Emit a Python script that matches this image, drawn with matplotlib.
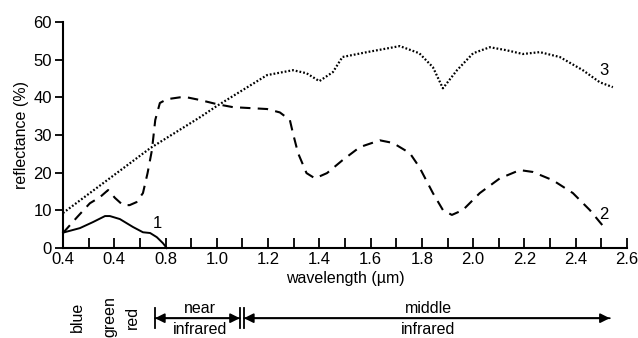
import numpy as np
import matplotlib
matplotlib.use("Agg")
import matplotlib.pyplot as plt

plt.rcParams['font.family'] = ['Liberation Sans Narrow', 'Liberation Sans', 'DejaVu Sans']

# curve 1 (solid)
x1 = [0.40, 0.466, 0.517, 0.564, 0.583, 0.622, 0.673, 0.712, 0.74, 0.766, 0.79, 0.805]
y1 = [4.1, 5.3, 6.9, 8.5, 8.5, 7.7, 5.6, 4.2, 4.0, 2.9, 1.3, 0.0]

# curve 2 (dashed)
x2 = [0.40, 0.455, 0.505, 0.544, 0.576, 0.603, 0.634, 0.66, 0.687, 0.712, 0.73, 0.747,
      0.76, 0.778, 0.805, 0.856, 0.884, 0.934, 1.0, 1.063, 1.196, 1.246, 1.285, 1.297,
      1.317, 1.35, 1.383, 1.43, 1.49, 1.558, 1.636, 1.687, 1.753, 1.79, 1.843, 1.882,
      1.917, 1.96, 2.026, 2.104, 2.182, 2.233, 2.311, 2.389, 2.455, 2.494, 2.52]
y2 = [4.0, 8.2, 11.9, 13.5, 15.4, 13.3, 11.4, 11.4, 12.2, 14.6, 19.9, 26.0,
      34.0, 38.5, 39.5, 40.0, 40.0, 39.3, 38.2, 37.4, 36.9, 36.0, 34.0, 30.5,
      25.2, 19.9, 18.5, 19.9, 23.3, 26.8, 28.6, 27.9, 25.2, 21.5, 14.6, 10.1,
      8.8, 10.1, 14.6, 18.5, 20.7, 20.2, 18.0, 14.6, 10.1, 6.9, 4.8]

# curve 3 (dotted)
x3 = [0.40, 0.74, 0.934, 1.0, 1.196, 1.297, 1.35, 1.40, 1.453, 1.49, 1.586, 1.714,
      1.79, 1.843, 1.882, 1.937, 2.0, 2.065, 2.13, 2.194, 2.26, 2.338, 2.428, 2.494, 2.545]
y3 = [9.3, 26.5, 34.7, 37.7, 45.9, 47.2, 46.4, 44.3, 46.7, 50.7, 52.0, 53.6,
      51.7, 48.0, 42.4, 47.2, 51.7, 53.3, 52.5, 51.5, 52.0, 50.7, 47.2, 44.0, 42.7]

xticks = [0.4, 0.6, 0.8, 1.0, 1.2, 1.4, 1.6, 1.8, 2.0, 2.2, 2.4, 2.6]
xticklabels = ['0.4', '0.4', '0.8', '1.0', '1.2', '1.4', '1.6', '1.8', '2.0', '2.2', '2.4', '2.6']
yticks = [0, 10, 20, 30, 40, 50, 60]

fig = plt.figure(figsize=(6.38, 3.38), dpi=100)
ax = fig.add_axes([0.0987, 0.266, 0.884, 0.669])

ax.plot(x1, y1, color='black', lw=1.4, clip_on=False)
ax.plot(x2, y2, color='black', lw=1.5, dashes=(5, 3.5), clip_on=False)
ax.plot(x3, y3, color='black', lw=1.6, dashes=(0.8, 0.9), clip_on=False)

ax.text(0.77, 6.6, '1', fontsize=12, ha='center', va='center')
ax.text(2.51, 9.0, '2', fontsize=12, ha='center', va='center')
ax.text(2.51, 47.0, '3', fontsize=12, ha='center', va='center')

ax.set_xlim(0.4, 2.6)
ax.set_ylim(0, 60)
for s in ['top', 'right']:
    ax.spines[s].set_visible(False)
for s in ['left', 'bottom']:
    ax.spines[s].set_linewidth(1.5)

ax.set_xticks(xticks)
ax.set_xticklabels(xticklabels)
ax.set_xticks(np.arange(0.5, 2.6, 0.2), minor=True)
ax.tick_params(axis='x', which='both', direction='in', length=7, width=1.3,
               labelsize=12, pad=3)
ax.set_yticks(yticks)
ax.tick_params(axis='y', direction='out', length=6, width=1.3, labelsize=12, pad=2)

ax.set_ylabel('reflectance (%)', fontsize=11.5, labelpad=3)
ax.set_xlabel('wavelength (µm)', fontsize=11.5, labelpad=3)

# spectral region annotations below the axis
tr = ax.get_xaxis_transform()
for xx, lab in [(0.455, 'blue'), (0.583, 'green'), (0.669, 'red')]:
    ax.text(xx, -0.305, lab, rotation=90, fontsize=11.5, ha='center', va='center',
            transform=tr, clip_on=False)

ay = -0.31
ax.annotate('', xy=(0.759, ay), xytext=(1.09, ay), xycoords=tr, textcoords=tr,
            arrowprops=dict(arrowstyle='-|>', color='black', lw=1.3,
                            mutation_scale=14, shrinkA=0, shrinkB=0))
ax.annotate('', xy=(1.09, ay), xytext=(0.759, ay), xycoords=tr, textcoords=tr,
            arrowprops=dict(arrowstyle='-|>', color='black', lw=1.3,
                            mutation_scale=14, shrinkA=0, shrinkB=0))
ax.annotate('', xy=(1.106, ay), xytext=(2.533, ay), xycoords=tr, textcoords=tr,
            arrowprops=dict(arrowstyle='-|>', color='black', lw=1.3,
                            mutation_scale=14, shrinkA=0, shrinkB=0))
ax.annotate('', xy=(2.533, ay), xytext=(1.106, ay), xycoords=tr, textcoords=tr,
            arrowprops=dict(arrowstyle='-|>', color='black', lw=1.3,
                            mutation_scale=14, shrinkA=0, shrinkB=0))
for xx in [0.759, 1.09, 1.106]:
    ax.plot([xx, xx], [ay - 0.045, ay + 0.045], color='black', lw=1.3,
            transform=tr, clip_on=False)

ax.text(0.934, -0.268, 'near', fontsize=11.5, ha='center', va='center', transform=tr)
ax.text(0.934, -0.36, 'infrared', fontsize=11.5, ha='center', va='center', transform=tr)
ax.text(1.824, -0.268, 'middle', fontsize=11.5, ha='center', va='center', transform=tr)
ax.text(1.824, -0.36, 'infrared', fontsize=11.5, ha='center', va='center', transform=tr)

fig.savefig('out.png', dpi=100)
